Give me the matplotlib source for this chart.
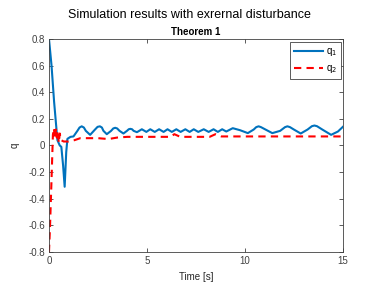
import matplotlib

matplotlib.use("Agg")
import matplotlib.pyplot as plt

# values
t_q1 = [0.0, 0.13, 0.26, 0.43, 0.55, 0.63, 0.72, 0.80, 0.88, 0.94, 1.10, 1.25,
        1.45, 1.56, 1.67, 1.78, 1.88, 2.10, 2.35, 2.48, 2.60, 2.70, 2.78, 2.95,
        3.17, 3.28, 3.38, 3.48, 3.60, 3.80, 3.98, 4.07, 4.15, 4.24, 4.32, 4.49,
        4.74, 4.97, 5.17, 5.40, 5.62, 5.85, 6.05, 6.27, 6.50, 6.72, 6.96, 7.18,
        7.39, 7.62, 7.90, 8.15, 8.40, 8.62, 8.84, 9.05, 9.38, 9.75, 10.15, 10.45,
        10.58, 10.70, 10.82, 11.05, 11.40, 11.80, 12.05, 12.17, 12.30, 12.50,
        12.85, 13.20, 13.42, 13.55, 13.68, 13.95, 14.40, 14.75, 15.0]
q1 = [0.80, 0.60, 0.33, 0.04, 0.00, -0.01, -0.15, -0.31, -0.05, 0.05, 0.065, 0.068,
      0.11, 0.135, 0.144, 0.135, 0.11, 0.08, 0.12, 0.14, 0.144, 0.135, 0.11, 0.085,
      0.11, 0.128, 0.133, 0.128, 0.11, 0.09, 0.11, 0.122, 0.125, 0.122, 0.11, 0.10,
      0.122, 0.102, 0.122, 0.102, 0.122, 0.102, 0.122, 0.102, 0.122, 0.102, 0.122, 0.102,
      0.122, 0.102, 0.122, 0.102, 0.122, 0.102, 0.122, 0.105, 0.13, 0.115, 0.093, 0.12,
      0.138, 0.144, 0.138, 0.12, 0.093, 0.11, 0.138, 0.144, 0.138, 0.12,
      0.09, 0.12, 0.145, 0.15, 0.145, 0.12, 0.08, 0.105, 0.14]

t_q2 = [0.0, 0.05, 0.12, 0.20, 0.25, 0.30, 0.35, 0.40, 0.45, 0.50, 0.55, 0.62,
        0.75, 1.00, 1.30, 1.60, 2.00, 2.50, 2.90, 3.10, 3.50, 4.00, 4.50, 5.50,
        6.20, 6.40, 6.70, 8.20, 8.50, 8.80, 10.0, 12.0, 14.0, 15.0]
q2 = [-0.80, -0.62, -0.30, 0.08, 0.13, 0.05, 0.12, 0.06, 0.11, 0.02, 0.09, 0.04,
      0.03, 0.03, 0.04, 0.055, 0.055, 0.055, 0.05, 0.05, 0.06, 0.065, 0.065, 0.065,
      0.065, 0.085, 0.065, 0.065, 0.085, 0.068, 0.068, 0.068, 0.068, 0.068]

x_ticks = [0, 5, 10, 15]
y_ticks = [-0.8, -0.6, -0.4, -0.2, 0, 0.2, 0.4, 0.6, 0.8]
y_tick_labels = ["-0.8", "-0.6", "-0.4", "-0.2", "0", "0.2", "0.4", "0.6", "0.8"]

plt.rcParams["font.family"] = ["Liberation Sans", "DejaVu Sans"]

fig = plt.figure(figsize=(3.78, 2.84), dpi=100)
ax = fig.add_axes([0.1296, 0.1127, 0.7774, 0.75])

ax.plot(t_q1, q1, color="#0072BD", linewidth=1.5, label="q$_1$")
ax.plot(t_q2, q2, color="#FF0000", linewidth=1.5, linestyle=(0, (3.5, 2.5)), label="q$_2$")

ax.set_xlim(0, 15)
ax.set_ylim(-0.8, 0.8)
ax.set_xticks(x_ticks)
ax.set_yticks(y_ticks)
ax.set_yticklabels(y_tick_labels)
ax.tick_params(direction="in", top=True, right=True, length=3, width=0.6,
               labelsize=7, colors="#404040", pad=3)
for spine in ax.spines.values():
    spine.set_color("#404040")
    spine.set_linewidth(0.6)

ax.set_xlabel("Time [s]", fontsize=7, color="#262626", labelpad=4)
ax.set_ylabel("q", fontsize=7, color="#262626", labelpad=6)
ax.set_title("Theorem 1", fontsize=7, fontweight="bold", pad=3)
fig.suptitle("Simulation results with exrernal disturbance", fontsize=9, y=0.97)

leg = ax.legend(loc="upper right", bbox_to_anchor=(0.995, 0.985), fontsize=7,
                fancybox=False, framealpha=1, edgecolor="#404040", handlelength=3.0,
                borderpad=0.4, handletextpad=0.3, borderaxespad=0.0)
leg.get_frame().set_linewidth(0.6)

fig.savefig("out.png", dpi=100)
